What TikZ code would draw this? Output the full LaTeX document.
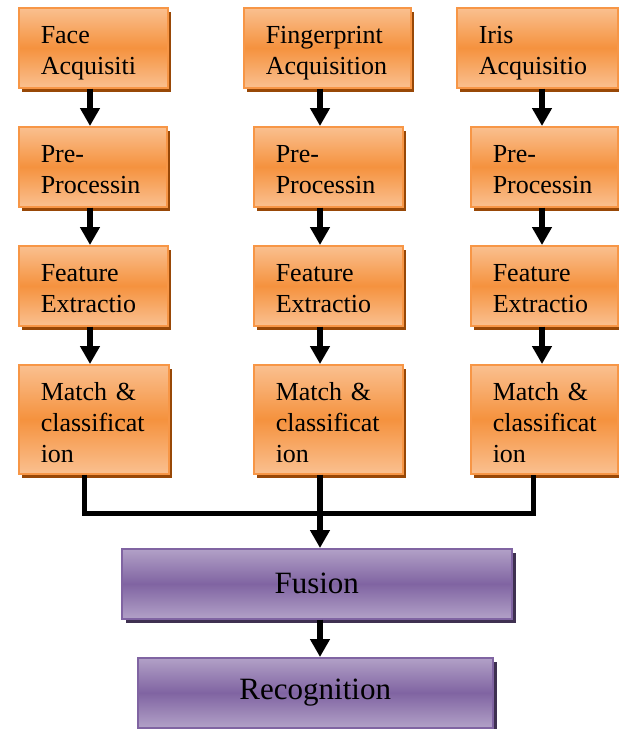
\documentclass[tikz,border=0pt]{standalone}
\usepackage{fontspec}
\setmainfont{Liberation Serif}
\usepackage{xcolor}
\usepackage{tikz}
\usetikzlibrary{positioning,arrows.meta,shadows}

\definecolor{orLight}{RGB}{250,192,144}
\definecolor{orMid}{RGB}{245,146,62}
\definecolor{orBorder}{RGB}{247,150,70}
\definecolor{orShadow}{RGB}{152,72,7}
\definecolor{puLight}{RGB}{178,161,199}
\definecolor{puMid}{RGB}{128,100,162}
\definecolor{puBorder}{RGB}{128,100,162}
\definecolor{puShadow}{RGB}{63,49,81}

\tikzset{
  stagebox/.style = {draw = orBorder, line width = 1.5pt,
    top color = orLight, bottom color = orLight, middle color = orMid,
    general shadow = {fill = orShadow, shadow xshift = 3pt, shadow yshift = -4pt},
    anchor = north west, inner xsep = 22pt, inner ysep = 0pt,
    text height = 36pt, text depth = 44pt, align = left,
    font = \fontsize{26}{31}\selectfont,
    execute at begin node = {\hyphenpenalty=10000\relax}},
  fusebox/.style = {draw = puBorder, line width = 1.5pt,
    top color = puLight, bottom color = puLight, middle color = puMid,
    general shadow = {fill = puShadow, shadow xshift = 4pt, shadow yshift = -4pt},
    anchor = north west, inner sep = 0pt, minimum height = 70pt,
    font = \fontsize{31}{36}\selectfont},
  flow/.style = {line width = 6pt, -{Triangle[width = 19pt, length = 18pt]}},
  link/.style = {line width = 5pt}
}

\begin{document}
\begin{tikzpicture}[x = 1pt, y = -1pt]
  \useasboundingbox (0,0) rectangle (619,729);

  % face column
  \node[stagebox, text width = 105pt] (face) at (18,7) {Face\\Acquisiti};
  \node[stagebox, text width = 104pt] (pre1) at (18,126) {Pre-\\Processin};
  \node[stagebox, text width = 105pt] (feat1) at (18,245) {Feature\\Extractio};
  \node[stagebox, text width = 106pt, text depth = 73pt] (match1) at (18,364) {Match \&\\classificat\\ion};

  % fingerprint column
  \node[stagebox, text width = 123pt] (finger) at (243,7) {Fingerprint\\Acquisition};
  \node[stagebox, text width = 105pt] (pre2) at (253,126) {Pre-\\Processin};
  \node[stagebox, text width = 105pt] (feat2) at (253,245) {Feature\\Extractio};
  \node[stagebox, text width = 105pt, text depth = 73pt] (match2) at (253,364) {Match \&\\classificat\\ion};

  % iris column
  \node[stagebox, text width = 117pt] (iris) at (456,7) {Iris\\Acquisitio};
  \node[stagebox, text width = 103pt] (pre3) at (470,126) {Pre-\\Processin};
  \node[stagebox, text width = 103pt] (feat3) at (470,245) {Feature\\Extractio};
  \node[stagebox, text width = 103pt, text depth = 73pt] (match3) at (470,364) {Match \&\\classificat\\ion};

  \node[fusebox, minimum width = 390pt] (fusion) at (121,548) {Fusion};
  \node[fusebox, minimum width = 355pt] (recog) at (137,657) {Recognition};

  \coordinate (c1) at (90,0);
  \coordinate (c2) at (320,0);
  \coordinate (c3) at (542,0);
  \coordinate (l1) at (84,0);
  \coordinate (l3) at (533,0);
  \coordinate (bus) at (0,513);

  \foreach \a/\b/\c in {face/pre1/c1, pre1/feat1/c1, feat1/match1/c1,
                        finger/pre2/c2, pre2/feat2/c2, feat2/match2/c2,
                        iris/pre3/c3, pre3/feat3/c3, feat3/match3/c3}
    \draw[flow] (\a.south -| \c) -- (\b.north -| \c);

  \draw[link] (match1.south -| l1) -- (l1 |- bus) -- (l3 |- bus) -- (match3.south -| l3);
  \draw[flow] (match2.south -| c2) -- (fusion.north -| c2);
  \draw[flow] (fusion.south -| c2) -- (recog.north -| c2);
\end{tikzpicture}
\end{document}
